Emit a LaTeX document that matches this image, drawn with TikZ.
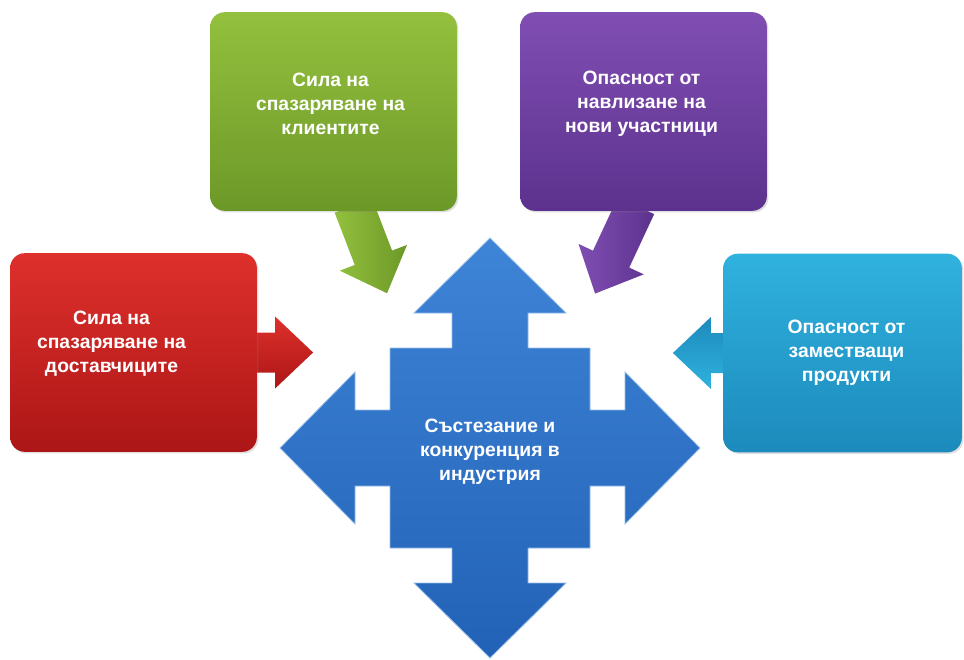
\documentclass[tikz,border=0pt]{standalone}
\usepackage{fontspec}
\setmainfont{Liberation Sans}
\usepackage{tikz}
\usetikzlibrary{calc,backgrounds,shadows,positioning}

\definecolor{redtop}{RGB}{222,48,44}
\definecolor{redbot}{RGB}{172,22,22}
\definecolor{greentop}{RGB}{148,192,62}
\definecolor{greenbot}{RGB}{108,152,40}
\definecolor{purpletop}{RGB}{128,78,178}
\definecolor{purplebot}{RGB}{92,50,142}
\definecolor{tealtop}{RGB}{48,178,222}
\definecolor{tealbot}{RGB}{28,138,188}
\definecolor{bluetop}{RGB}{62,132,215}
\definecolor{bluebot}{RGB}{34,98,182}

\tikzset{
  force/.style={rectangle, rounded corners=11pt, minimum width=185pt, minimum height=149pt,
    drop shadow={shadow xshift=1.2pt, shadow yshift=-1.2pt, opacity=0.25}},
  forcetext/.style={text=white, font=\bfseries\fontsize{14.5}{18}\selectfont, align=center},
  hub/.style={top color=bluetop, bottom color=bluebot, draw=bluetop!55!white, line width=0.6pt},
}

\newcommand\arrowpath[1]{(-6,-20) -- ({#1-38},-20) -- ({#1-38},-36) -- (#1,0) -- ({#1-38},36) -- ({#1-38},20) -- (-6,20) -- cycle}

\begin{document}
\begin{tikzpicture}[x=0.75pt,y=-0.75pt]
\useasboundingbox (0,0) rectangle (964,660);

\coordinate (mid) at (490,448);
\path[hub, shift={(mid)}] (0,-210) -- (76,-135) -- (38,-135) -- (38,-100) -- (100,-100) -- (100,-38) -- (135,-38) -- (135,-76) -- (210,0) -- (135,76) -- (135,38) -- (100,38) -- (100,100) -- (38,100) -- (38,135) -- (76,135) -- (0,210) -- (-76,135) -- (-38,135) -- (-38,100) -- (-100,100) -- (-100,38) -- (-135,38) -- (-135,76) -- (-210,0) -- (-135,-76) -- (-135,-38) -- (-100,-38) -- (-100,-100) -- (-38,-100) -- (-38,-135) -- (-76,-135) -- cycle;
\node[forcetext] (comp) at ($(mid)+(0,4)$) {Състезание и\\конкуренция в\\индустрия};

\node[force, top color=redtop, bottom color=redbot] (supp) at (133.5,352.5) {};
\node[forcetext] (supptext) at ($(supp.center)+(-22,-9)$) {Сила на\\спазаряване на\\доставчиците};

\node[force, top color=greentop, bottom color=greenbot] (buy) at (333.5,111.5) {};
\node[forcetext] (buytext) at ($(buy.center)+(-3,-8)$) {Сила на\\спазаряване на\\клиентите};

\node[force, top color=purpletop, bottom color=purplebot] (entr) at (643.5,111.5) {};
\node[forcetext] (entrtext) at ($(entr.center)+(-2,-8)$) {Опасност от\\навлизане на\\нови участници};

\node[force, minimum width=179pt, top color=tealtop, bottom color=tealbot] (subs) at (842.5,353) {};
\node[forcetext] (substext) at ($(subs.center)+(4,0)$) {Опасност от\\заместващи\\продукти};

\begin{scope}[on background layer]
\path[top color=redtop, bottom color=redbot, shift={(supp.east)}] \arrowpath{56};
\path[top color=tealbot, bottom color=tealtop, shift={(subs.west)}, rotate=180] \arrowpath{50};
\path[left color=greentop, right color=greenbot, shift={($(buy.south)+(22,0)$)}, rotate=-69] \arrowpath{88};
\path[left color=purpletop, right color=purplebot, shift={($(entr.south)+(-10,0)$)}, rotate=-115] \arrowpath{91};
\end{scope}
\end{tikzpicture}
\end{document}
